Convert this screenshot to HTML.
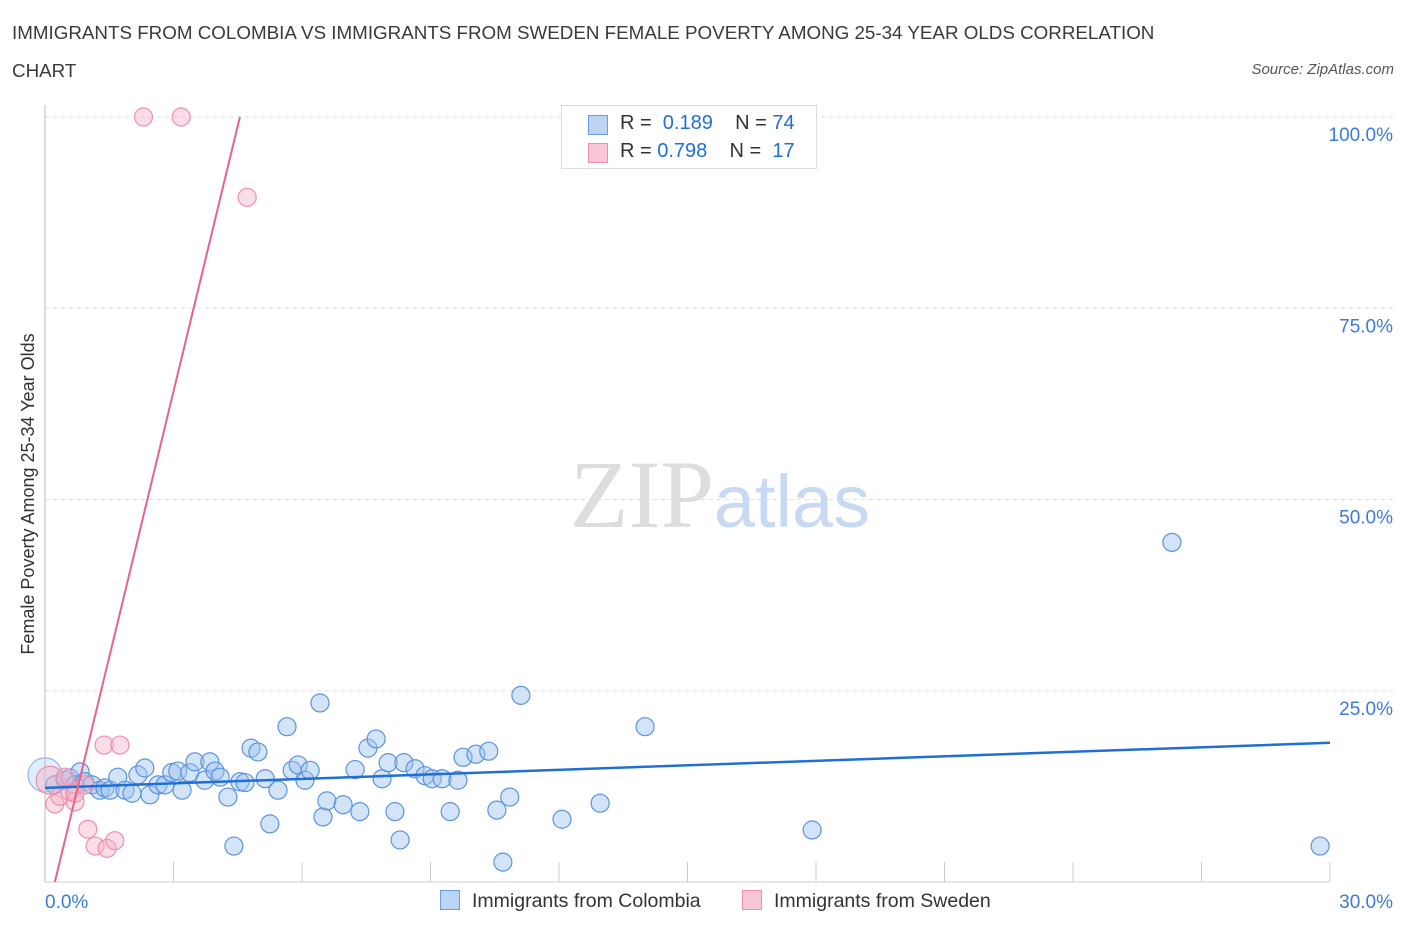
<!DOCTYPE html>
<html><head><meta charset="utf-8"><style>
body{margin:0;background:#fff;font-family:"Liberation Sans",sans-serif;}
.t{position:absolute;color:#333;}
</style></head><body>
<div style="position:relative;width:1406px;height:930px;overflow:hidden">
<div class="t" style="left:12px;top:14px;font-size:18.8px;line-height:38px;color:#3a3a3a">IMMIGRANTS FROM COLOMBIA VS IMMIGRANTS FROM SWEDEN FEMALE POVERTY AMONG 25-34 YEAR OLDS CORRELATION<br>CHART</div>
<div class="t" style="right:12px;top:61px;font-size:15px;font-style:italic;color:#555">Source: ZipAtlas.com</div>
<svg id="svg" width="1406" height="930" style="position:absolute;left:0;top:0"></svg>
</div>
<script>
const xTicks=[0,30];
const yTicks=[25,50,75,100];
const blueX=[0,0.23,0.47,0.58,0.82,0.7,0.93,1.1,1.28,1.4,1.52,1.7,1.87,2.03,2.17,2.33,2.45,2.64,2.8,2.96,3.1,3.2,3.38,3.5,3.73,3.85,3.97,4.09,4.27,4.41,4.55,4.67,4.81,4.97,5.14,5.25,5.44,5.65,5.77,5.91,6.07,6.19,6.42,6.49,6.58,6.96,7.24,7.35,7.54,7.73,7.87,8.01,8.17,8.29,8.38,8.64,8.87,9.04,9.27,9.46,9.64,9.76,10.06,10.36,10.55,10.85,11.11,10.69,12.07,12.96,14.01,17.91,26.31,29.77];
const blueY=[14,12.7,13.3,13.6,14.4,12.7,13.1,12.7,12.0,12.3,12.0,13.7,12.0,11.6,14.0,14.9,11.4,12.7,12.7,14.3,14.5,12.0,14.3,15.7,13.3,15.7,14.5,13.7,11.1,4.7,13.1,13.0,17.5,17.0,13.5,7.6,12.0,20.3,14.6,15.3,13.3,14.6,23.4,8.5,10.6,10.1,14.7,9.2,17.5,18.7,13.5,15.6,9.2,5.5,15.6,14.8,13.9,13.5,13.5,9.2,13.3,16.3,16.7,17.1,9.4,11.1,24.4,2.6,8.2,10.3,20.3,6.8,44.4,4.7];
const pinkX=[2.3,3.18,4.72,1.38,1.75,0.23,0.35,0.58,0.7,1.0,1.17,1.45,1.63,0.12,0.47,0.7,0.93];
const pinkY=[100,100,89.5,17.9,17.9,10.2,11.2,11.8,10.5,6.9,4.7,4.4,5.4,13.3,13.7,11.6,12.7];
const blueFit=[12.3,18.2];
const pinkFit=[-4.7,100];
const X=v=>45+v/30*1285, Y=v=>882-v/100*765;
const s=document.getElementById('svg'),NS='http://www.w3.org/2000/svg';
function mk(t,a,p){const e=document.createElementNS(NS,t);for(const k in a)e.setAttribute(k,a[k]);(p||s).appendChild(e);return e;}
const g=mk('g',{});


yTicks.forEach(v=>{const l=mk('line',{x1:45,x2:1395,y1:Y(v),y2:Y(v),stroke:'#ddd','stroke-dasharray':'4,4'},g);


const t=mk('text',{x:1393,y:Y(v)+24,'text-anchor':'end',fill:'#3d7bd9','font-size':19,'font-family':'Liberation Sans'});t.textContent=v.toFixed(1)+'%';

});
const ax=mk('line',{x1:45,x2:45,y1:105,y2:882,stroke:'#bbb'});


const bx=mk('line',{x1:45,x2:1330,y1:882,y2:882,stroke:'#ccc'});


for(let i=1;i<=10;i++){const l=mk('line',{x1:X(i*3),x2:X(i*3),y1:862,y2:882,stroke:'#ccc'});

}
xTicks.forEach((v,i)=>{const t=mk('text',{x:i?1393:45,y:908,'text-anchor':i?'end':'start',fill:'#3d7bd9','font-size':19,'font-family':'Liberation Sans'});t.textContent=v.toFixed(1)+'%';

});
const wm=mk('text',{x:720,y:527,'text-anchor':'middle','font-size':96,'font-family':'Liberation Serif',fill:'#ddd'});wm.innerHTML='ZIP<tspan fill="#c8daf3" font-family="Liberation Sans" font-size="74">atlas</tspan>';


const yt=mk('text',{transform:'translate(34,494) rotate(-90)','text-anchor':'middle','font-size':18,fill:'#333','font-family':'Liberation Sans'});yt.textContent='Female Poverty Among 25-34 Year Olds';


blueX.forEach((x,i)=>{const c=mk('circle',{cx:X(x),cy:Y(blueY[i]),r:i==0?17:9,fill:i==0?'rgba(160,196,240,0.3)':'rgba(160,196,240,0.45)',stroke:i==0?'#8fb5ea':'#5a93e0','stroke-width':1.2});

});
pinkX.forEach((x,i)=>{const c=mk('circle',{cx:X(x),cy:Y(pinkY[i]),r:i==13?14:9,fill:'rgba(245,180,200,0.45)',stroke:'#ee8fab','stroke-width':1.2});

});
const bl=mk('line',{x1:X(0),y1:Y(blueFit[0]),x2:X(30),y2:Y(blueFit[1]),stroke:'#1f6fd6','stroke-width':2.5});


const pl=mk('line',{x1:X(0.23),y1:Y(0),x2:X(4.55),y2:Y(100),stroke:'#e8618f','stroke-width':2});


</script>
<div style="position:absolute;left:561px;top:105px;width:254px;height:62px;border:1px solid #ddd;background:#fff;font-size:20px;color:#333">
<div style="position:absolute;left:26px;top:9px;width:18px;height:18px;background:#bcd5f5;border:1px solid #6a9de0"></div>
<div style="position:absolute;left:58px;top:6px">R = <span style="color:#1f6fd6">&nbsp;0.189</span>&nbsp;&nbsp;&nbsp;&nbsp;N = <span style="color:#1f6fd6">74</span></div>
<div style="position:absolute;left:26px;top:37px;width:18px;height:18px;background:#f8c6d5;border:1px solid #ee8fab"></div>
<div style="position:absolute;left:58px;top:34px">R = <span style="color:#1f6fd6">0.798</span>&nbsp;&nbsp;&nbsp;&nbsp;N = <span style="color:#1f6fd6">&nbsp;17</span></div>
</div>
<div style="position:absolute;left:440px;top:890px;font-size:19.5px;color:#333"><span style="display:inline-block;width:18px;height:18px;background:#bcd5f5;border:1px solid #6a9de0;vertical-align:-3px;margin-right:12px"></span>Immigrants from Colombia</div>
<div style="position:absolute;left:742px;top:890px;font-size:19.5px;color:#333"><span style="display:inline-block;width:18px;height:18px;background:#f8c6d5;border:1px solid #ee8fab;vertical-align:-3px;margin-right:12px"></span>Immigrants from Sweden</div>
</body></html>
